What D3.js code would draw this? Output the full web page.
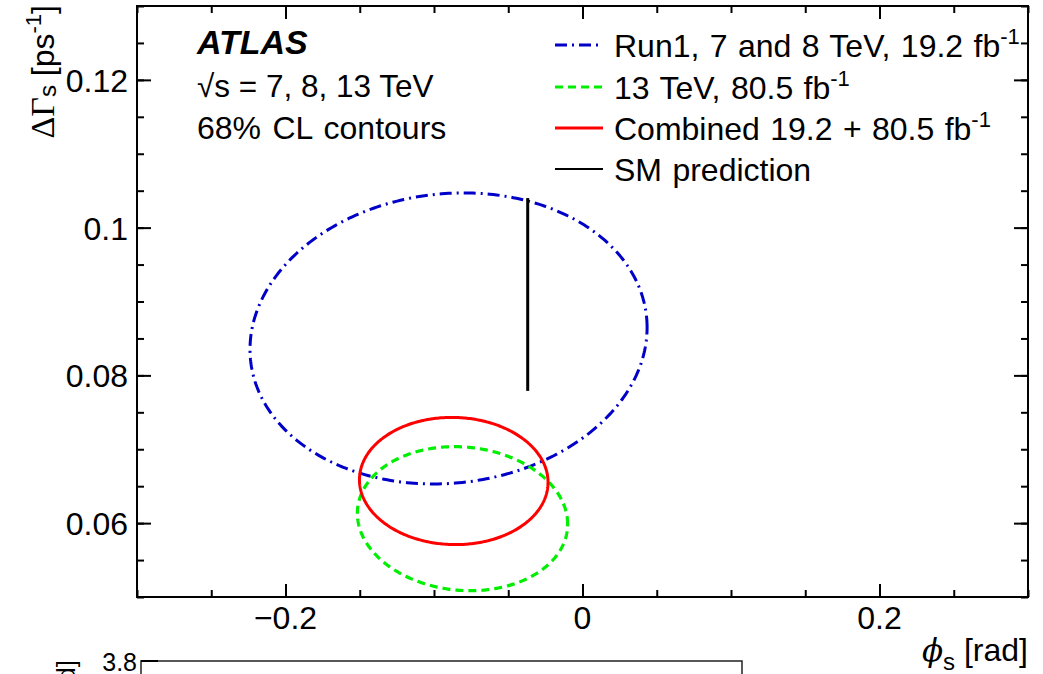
<!DOCTYPE html>
<html>
<head>
<meta charset="utf-8">
<script src="https://cdn.jsdelivr.net/npm/d3@7"></script>
<style>
  html, body { margin: 0; padding: 0; background: #fff; }
  svg { display: block; }
  text { font-family: "Liberation Sans", Arial, Helvetica, sans-serif; fill: #000; }
</style>
</head>
<body>
<svg id="chart" width="1043" height="674"></svg>
<script>
// Axis ranges and tick labels
const phiDomain = [-0.3, 0.3];
const dGammaDomain = [0.05, 0.13];
const phiTickLabels = [-0.2, 0, 0.2];
const dGammaTickLabels = [0.06, 0.08, 0.1, 0.12];

// 68% CL contours: central values, half-extents of the contour and correlation
const contourNames = ["run1", "run2", "combined"];
const contourPhi = [-0.0902, -0.0808, -0.0867];
const contourDGamma = [0.0850, 0.0606, 0.0657];
const contourPhiHalfWidth = [0.1337, 0.0708, 0.0635];
const contourDGammaHalfWidth = [0.0197, 0.00975, 0.00861];
const contourCorrelation = [0.075, -0.075, -0.02];

// Standard Model prediction (phi_s, DeltaGamma_s range)
const smPhi = -0.0369;
const smDGamma = [0.0779, 0.1040];

// Legend entries
const legendLabels = [
  ["Run1, 7 and 8 TeV, 19.2 fb", "-1"],
  ["13 TeV, 80.5 fb", "-1"],
  ["Combined 19.2 + 80.5 fb", "-1"],
  ["SM prediction", ""]
];
const legendKeys = ["run1", "run2", "combined", "sm"];

const styles = {
  run1: { color: "#0000c8", dash: "12,5,2,5", width: 3 },
  run2: { color: "#00ee00", dash: "8,5", width: 3.2 },
  combined: { color: "#ff0000", dash: null, width: 3 },
  sm: { color: "#000000", dash: null, width: 2 }
};

const svg = d3.select("#chart");
const frame = { left: 137, right: 1028, top: 6, bottom: 597 };

const x = d3.scaleLinear().domain(phiDomain).range([frame.left, frame.right]);
const y = d3.scaleLinear().domain(dGammaDomain).range([frame.bottom, frame.top]);

const fmt = d => d === 0 ? "0" : d3.format("~g")(d);
const minorPhi = d3.range(-6, 7).map(i => i * 0.05);
const minorDG = d3.range(0, 17).map(i => 0.05 + i * 0.005);

// Inward-pointing ticks on all four sides
function tickAxis(axisFn, scale, values, size, translate) {
  const g = svg.append("g").attr("transform", translate)
    .call(axisFn(scale).tickValues(values).tickSize(size).tickFormat(""));
  g.select(".domain").remove();
  g.selectAll(".tick line").attr("stroke", "#000").attr("stroke-width", 2);
  return g;
}
tickAxis(d3.axisBottom, x, minorPhi, -7, `translate(0,${frame.bottom})`);
tickAxis(d3.axisBottom, x, phiTickLabels, -13, `translate(0,${frame.bottom})`);
tickAxis(d3.axisTop, x, minorPhi, -7, `translate(0,${frame.top})`);
tickAxis(d3.axisTop, x, phiTickLabels, -13, `translate(0,${frame.top})`);
tickAxis(d3.axisLeft, y, minorDG, -7, `translate(${frame.left},0)`);
tickAxis(d3.axisLeft, y, dGammaTickLabels, -14, `translate(${frame.left},0)`);
tickAxis(d3.axisRight, y, minorDG, -7, `translate(${frame.right},0)`);
tickAxis(d3.axisRight, y, dGammaTickLabels, -14, `translate(${frame.right},0)`);

// Tick labels
svg.append("g").selectAll("text").data(phiTickLabels).join("text")
  .attr("x", d => x(d)).attr("y", 629)
  .attr("text-anchor", "middle").attr("font-size", 32)
  .text(fmt);
svg.append("g").selectAll("text").data(dGammaTickLabels).join("text")
  .attr("x", 128).attr("y", d => y(d) + 12)
  .attr("text-anchor", "end").attr("font-size", 32)
  .text(fmt);

// Frame
svg.append("rect")
  .attr("x", frame.left).attr("y", frame.top)
  .attr("width", frame.right - frame.left).attr("height", frame.bottom - frame.top)
  .attr("fill", "none").attr("stroke", "#000").attr("stroke-width", 2);

// Axis titles
const xt = svg.append("text").attr("x", frame.right).attr("y", 661)
  .attr("text-anchor", "end").attr("font-size", 32);
xt.append("tspan").attr("font-family", "DejaVu Serif, Liberation Serif, serif")
  .attr("font-style", "italic").attr("font-size", 31).text("ϕ");
xt.append("tspan").attr("font-size", 24).attr("dy", 9).text("s");
xt.append("tspan").attr("dy", -9).text(" [rad]");

const yt = svg.append("text")
  .attr("transform", "translate(54,5) rotate(-90)")
  .attr("text-anchor", "end").attr("font-size", 32);
yt.append("tspan").attr("font-family", "Liberation Serif, Times New Roman, serif")
  .attr("font-size", 34).text("ΔΓ");
yt.append("tspan").attr("font-size", 24).attr("dy", 2).text("s");
yt.append("tspan").attr("dy", -2).text(" [ps");
yt.append("tspan").attr("font-size", 22).attr("dy", -13).text("-1");
yt.append("tspan").attr("dy", 13).text("]");

// Contours
svg.append("clipPath").attr("id", "plotClip").append("rect")
  .attr("x", frame.left).attr("y", frame.top)
  .attr("width", frame.right - frame.left).attr("height", frame.bottom - frame.top);

function contourPoints(i) {
  const r = contourCorrelation[i];
  return d3.range(0, 361).map(k => {
    const t = k / 360 * 2 * Math.PI;
    return [
      contourPhi[i] + contourPhiHalfWidth[i] * Math.cos(t),
      contourDGamma[i] + contourDGammaHalfWidth[i] * (r * Math.cos(t) + Math.sqrt(1 - r * r) * Math.sin(t))
    ];
  });
}
const line = d3.line().x(d => x(d[0])).y(d => y(d[1])).curve(d3.curveLinearClosed);
const plot = svg.append("g").attr("clip-path", "url(#plotClip)");
contourNames.forEach((name, i) => {
  const s = styles[name];
  plot.append("path")
    .attr("d", line(contourPoints(i)))
    .attr("fill", "none")
    .attr("stroke", s.color).attr("stroke-width", s.width)
    .attr("stroke-dasharray", s.dash);
});

// SM prediction
plot.append("line")
  .attr("x1", x(smPhi)).attr("x2", x(smPhi))
  .attr("y1", y(smDGamma[0])).attr("y2", y(smDGamma[1]))
  .attr("stroke", "#000").attr("stroke-width", 3);

// ATLAS label
svg.append("text").attr("x", 197).attr("y", 54)
  .attr("font-size", 34).attr("font-weight", "bold").attr("font-style", "italic")
  .text("ATLAS");
svg.append("text").attr("x", 197).attr("y", 97).attr("font-size", 31.5)
  .text("√s = 7, 8, 13 TeV");
svg.append("text").attr("x", 197).attr("y", 139).attr("font-size", 32)
  .attr("word-spacing", 2.5).text("68% CL contours");

// Legend
const legendY = [45, 87, 128, 169];
const lg = svg.append("g");
legendKeys.forEach((key, i) => {
  const s = styles[key];
  lg.append("line")
    .attr("x1", 555).attr("x2", 603).attr("y1", legendY[i]).attr("y2", legendY[i])
    .attr("stroke", s.color).attr("stroke-width", key === "sm" ? 2 : s.width)
    .attr("stroke-dasharray", s.dash);
  const t = lg.append("text").attr("x", 614).attr("y", legendY[i] + 12)
    .attr("font-size", 32).attr("word-spacing", 1.5);
  t.append("tspan").text(legendLabels[i][0]);
  if (legendLabels[i][1]) {
    t.append("tspan").attr("font-size", 22).attr("dy", -13).text(legendLabels[i][1]);
  }
});

// Top edge of the panel below
const lower = svg.append("g");
lower.append("rect").attr("x", 141).attr("y", 661).attr("width", 601).attr("height", 60)
  .attr("fill", "none").attr("stroke", "#222").attr("stroke-width", 1.5);
lower.append("line").attr("x1", 141).attr("x2", 158).attr("y1", 661).attr("y2", 661)
  .attr("stroke", "#000").attr("stroke-width", 2);
lower.append("text").attr("x", 137).attr("y", 671).attr("text-anchor", "end")
  .attr("font-size", 25).text("3.8");
const lt = lower.append("text").attr("transform", "translate(75,660) rotate(-90)")
  .attr("text-anchor", "end").attr("font-size", 26);
lt.append("tspan").attr("font-family", "Liberation Serif, Times New Roman, serif").text("δ");
lt.append("tspan").attr("font-size", 19).attr("dy", 4).text("⊥");
lt.append("tspan").attr("dy", -4).text(" [rad]");
</script>
</body>
</html>
